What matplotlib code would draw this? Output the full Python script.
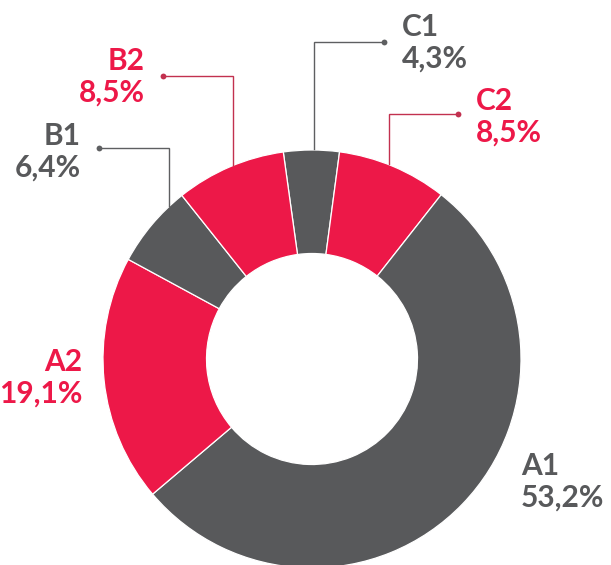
import numpy as np
import matplotlib
matplotlib.use("Agg")
import matplotlib.pyplot as plt

# ---- data ----
categories = ["C1", "C2", "A1", "A2", "B1", "B2"]
values = [4.3, 8.5, 53.2, 19.1, 6.4, 8.5]
value_labels = ["4,3%", "8,5%", "53,2%", "19,1%", "6,4%", "8,5%"]
groups = ["gray", "red", "gray", "red", "gray", "red"]

# ---- style / layout ----
W, H = 611, 565
GRAY = "#58595B"
RED = "#ED1848"
LINE = {"gray": "#5E5F61", "red": "#C2314F"}
FILL = {"gray": GRAY, "red": RED}

CX, CY = 312, 359          # centre in image pixels (y down)
R_OUT, R_IN = 209, 105.5
START = 97.9

def Y(y):
    return H - y

fig = plt.figure(figsize=(W / 100, H / 100), dpi=100)
ax = fig.add_axes([0, 0, 1, 1])

ax.pie(values, colors=[FILL[g] for g in groups], startangle=START,
       counterclock=False, radius=R_OUT, center=(CX, Y(CY)),
       wedgeprops=dict(width=R_OUT - R_IN, edgecolor="white", linewidth=0.9))

ax.set_xlim(0, W)
ax.set_ylim(0, H)
ax.set_aspect("equal")
ax.axis("off")

# label layout: (anchor x, first-baseline y, ha, leader dot (x,y) or None, elbow x)
layout = {
    "C1": (402, 36, "left", (384, 42), 314),
    "C2": (476, 110, "left", (458, 114), 389),
    "B2": (145, 70, "right", (163, 76), 233),
    "B1": (81, 145, "right", (99, 148), 169),
    "A2": (82, 371, "right", None, None),
    "A1": (521, 475, "left", None, None),
}

FONT = dict(family="Lato", weight="bold", fontsize=21.5)
LINE_GAP = 31.5

for cat, vlab, grp in zip(categories, value_labels, groups):
    x, yb, ha, dot, ex = layout[cat]
    col = FILL[grp]
    ax.text(x, Y(yb), cat, ha=ha, va="baseline", color=col, **FONT)
    ax.text(x, Y(yb + LINE_GAP), vlab, ha=ha, va="baseline", color=col, **FONT)
    if dot is not None:
        dx, dy = dot
        y_edge = CY - np.sqrt(R_OUT ** 2 - (ex - CX) ** 2)
        ax.plot([dx, ex, ex], [Y(dy), Y(dy), Y(y_edge - 1)],
                color=LINE[grp], lw=1.0, solid_joinstyle="miter")
        ax.plot([dx], [Y(dy)], marker="o", ms=4.2, color=LINE[grp], mew=0)

fig.savefig("out.png", dpi=100, facecolor="white")
